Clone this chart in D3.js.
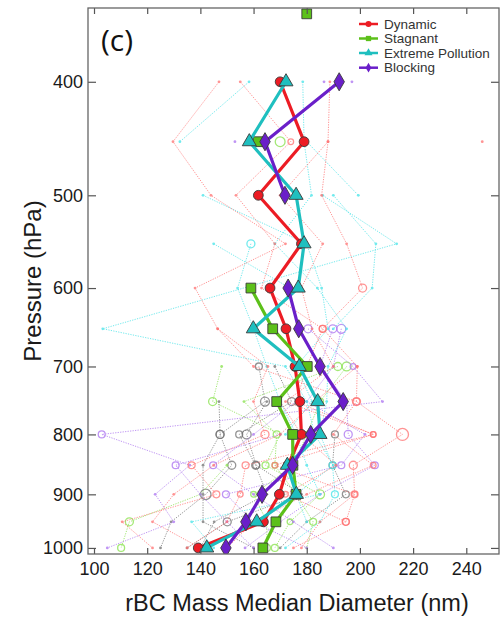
<!DOCTYPE html>
<html><head><meta charset="utf-8">
<script src="https://cdn.jsdelivr.net/npm/d3@7"></script>
<style>
body{margin:0;background:#fff}
text{font-family:"Liberation Sans",Arial,Helvetica,sans-serif}
</style>
</head><body>
<svg id="chart" width="500" height="617"></svg>
<script>
// ---------- data ----------
const levels = [350,400,450,500,550,600,650,700,750,800,850,900,950,1000];
const dynamic = [null,170,179,161.8,178,166.2,172.2,175.6,177.4,178,173,169.7,163.7,139.2];
const stagnant = [180,null,161.7,null,null,159,167.2,180.2,168.7,174.7,174.8,176,168.4,163.5];
const extreme = [null,172.2,158.4,176,179,176.8,159.9,177.2,184.1,185,172.7,176.1,161.2,142.4];
const blocking = [null,192.2,164.3,171.8,null,173,177,185,193.7,181.5,174.7,163.2,157.1,149.6];

const seriesNames = ["Dynamic","Stagnant","Extreme Pollution","Blocking"];
const xTicks = [100,120,140,160,180,200,220,240];
const yTicks = [400,500,600,700,800,900,1000];

// individual flight profiles: [pressure, diameter, sample count]
const redProfiles = [
  [[400,188.7,1],[450,188,1],[500,185.6,1],[550,195,1],[600,201,4],[650,186,3],[700,199,1],[750,198.7,3],[800,216,9],[850,197.5,4],[900,198,2],[950,194.7,3]],
  [[400,147,1],[450,129.7,1],[500,144,1],[550,172,1],[600,138,1],[650,146.5,1],[700,165.4,1],[750,160,1],[800,164.3,4],[850,136.7,3],[900,146,3],[950,110.6,1],[1000,122,1]],
  [[400,155,1],[450,174,2],[500,153.4,1],[550,168,1],[600,163,1],[650,186,3],[700,180,1],[750,176,1],[800,205,2],[850,157,3],[900,155,2],[950,150,1],[1000,135,1]],
  [[450,246,1]],
  [[450,188,1],[500,170,1],[550,186,1],[600,178,1],[650,182,1],[700,190,1],[750,172,1],[800,205,2],[850,168,2],[900,198,3],[950,185,1],[1000,178,1]],
  [[650,146.5,1],[700,160,1],[750,198.7,4],[800,190,1],[850,205,2],[900,180,1],[950,160,1],[1000,150,1]],
  [[700,199,1],[750,183,1],[800,170,1],[850,145,1],[900,130,1],[950,122,1],[1000,140,1]],
  [[750,170,1],[800,178,2],[850,191,1],[900,172,2],[950,194.7,3],[1000,175,1]]
];
const cyanProfiles = [
  [[400,158.3,1],[450,132.3,1]],
  [[400,178.5,1],[450,179,1],[500,181.8,1],[550,168,1],[600,184,1],[650,195,1],[700,188,1],[750,187.5,1],[800,185,1],[850,189.7,3],[900,190.6,3],[950,185,1],[1000,172,1]],
  [[450,180,1],[500,199.4,1]],
  [[500,186,1],[550,213.8,1],[650,103.3,1],[700,172,1],[750,180,1],[800,183,1],[850,190,1],[900,176,1],[950,180,1]],
  [[500,141,1],[550,180,1],[600,185.6,1],[650,188,1],[700,176,1],[750,182,1],[800,172,1]],
  [[550,145,1],[600,173.7,1]],
  [[550,159,4],[600,154,1],[650,160,1],[700,165,1],[750,170,1],[800,176,1],[850,180,1],[900,185,1],[950,136.7,1],[1000,145,1]],
  [[500,190,1],[550,206,1],[600,204.6,1],[650,190,1]]
];
const greenProfiles = [
  [[450,170,6]],
  [[700,148,1],[750,144.6,4],[800,170,1],[850,164.5,3],[900,185,5],[950,173.7,2],[1000,168,3]],
  [[850,150,1],[900,140,1],[950,113.3,4],[1000,110.2,3]],
  [[700,191.7,4],[750,156.4,1],[800,168.7,3],[850,168,2],[900,176,4],[950,182.4,3],[1000,180,1]],
  [[700,195,5],[750,185,3],[800,180,2],[850,175,1],[900,160,2],[950,165,1],[1000,165,3]]
];
const purpleProfiles = [
  [[400,186.5,1]],
  [[400,197,1]],
  [[450,153,1]],
  [[650,180.5,4],[700,197.4,2],[750,208.5,1],[800,102.9,3],[850,136,1],[900,123,1],[950,130,1],[1000,105,1]],
  [[650,189.8,4],[700,185,1],[750,195,1],[800,195.6,4],[850,205.6,3],[900,185,1],[950,170,1],[1000,156.8,1]],
  [[650,193,5],[700,190,1],[750,180,1],[800,201.9,1],[850,193,3],[900,149.6,3],[950,160,1],[1000,180,1]],
  [[800,170,1],[850,130.7,3],[900,140,1],[950,150,1],[1000,160,1]],
  [[750,176,1],[800,160,1],[850,144.8,3],[900,160,1],[950,175,1],[1000,190,1]]
];
const grayProfiles = [
  [[700,162,3],[750,164.3,5],[800,147.4,4],[850,151.8,4],[900,142,7],[950,129,1],[1000,125,1]],
  [[700,168,1],[750,174.3,4],[800,154.6,3],[850,160.8,4],[900,165,1],[950,145.2,1],[1000,140,1]],
  [[750,165,1],[800,157.4,5],[850,161,3],[900,178,1],[950,150.1,4],[1000,135,1]],
  [[800,190.6,3],[850,189.7,3],[900,194.7,3],[950,180,1],[1000,170,1]],
  [[750,147,1],[800,147.4,4],[850,141,1],[900,141,1],[950,141,1],[1000,160,1]]
];

// ---------- layout ----------
const svg = d3.select("#chart");
const L = 88, R = 499, T = 8, B = 554;
const x = d3.scaleLinear().domain([97.74, 252.3]).range([L, R]);
const y = d3.scaleLog().domain([346, 1012]).range([T, B]);

svg.append("defs").append("clipPath").attr("id","clip")
  .append("rect").attr("x",L).attr("y",T).attr("width",R-L).attr("height",B-T);
const plot = svg.append("g").attr("clip-path","url(#clip)");

// background profiles
const rScale = d3.scaleSqrt().domain([0,9]).range([0,6]);
const bgGroups = [
  {data: grayProfiles, color:"#707070", op:0.75},
  {data: greenProfiles, color:"#8ee455", op:0.8},
  {data: purpleProfiles, color:"#b07af2", op:0.8},
  {data: cyanProfiles, color:"#4fe6ea", op:0.8},
  {data: redProfiles, color:"#ff7070", op:0.75}
];
const bgLine = d3.line().x(d=>x(d[1])).y(d=>y(d[0]));
bgGroups.forEach(g => {
  g.data.forEach(prof => {
    const gg = plot.append("g").attr("opacity", g.op);
    gg.append("path").datum(prof).attr("d", bgLine)
      .attr("fill","none").attr("stroke", g.color).attr("stroke-width",1)
      .attr("stroke-dasharray","1.2,1.3");
    gg.selectAll("circle").data(prof).join("circle")
      .attr("cx", d=>x(d[1])).attr("cy", d=>y(d[0]))
      .attr("r", d=> d[2] <= 1 ? 1.4 : rScale(d[2]))
      .attr("fill", d=> d[2] <= 1 ? g.color : "none")
      .attr("stroke", g.color).attr("stroke-width", d=> d[2] <= 1 ? 0 : 1.3);
  });
});

// main series
const mainColors = ["#ec1c24","#5cc01a","#1fbfbf","#6a1fc9"];
const mainShapes = [d3.symbolCircle, d3.symbolSquare, d3.symbolTriangle, d3.symbolDiamond];
const mainSizes = [75, 95, 85, 95];
const mainData = [dynamic, stagnant, extreme, blocking];

mainData.forEach((vals, i) => {
  const pts = levels.map((p, k) => ({p, v: vals[k]}));
  const line = d3.line().defined(d => d.v != null).x(d=>x(d.v)).y(d=>y(d.p));
  plot.append("path").datum(pts).attr("d", line)
    .attr("fill","none").attr("stroke", mainColors[i]).attr("stroke-width",3.2)
    .attr("stroke-linejoin","round");
  plot.selectAll(null).data(pts.filter(d=>d.v!=null)).join("path")
    .attr("d", d3.symbol().type(mainShapes[i]).size(mainSizes[i]))
    .attr("transform", d=>`translate(${x(d.v)},${y(d.p)})`)
    .attr("fill", mainColors[i]).attr("stroke","#3a3a3a").attr("stroke-width",0.9);
});

// ---------- axes ----------
const axB = svg.append("g").attr("transform",`translate(0,${B})`)
  .call(d3.axisBottom(x).tickValues(xTicks).tickSize(-6).tickPadding(8));
const axT = svg.append("g").attr("transform",`translate(0,${T})`)
  .call(d3.axisTop(x).tickValues(xTicks).tickSize(-6).tickFormat(""));
const axL = svg.append("g").attr("transform",`translate(${L},0)`)
  .call(d3.axisLeft(y).tickValues(yTicks).tickSize(-8).tickPadding(5).tickFormat(d3.format("d")));
const axR = svg.append("g").attr("transform",`translate(${R},0)`)
  .call(d3.axisRight(y).tickValues(yTicks).tickSize(-8).tickFormat(""));
[axB,axT,axL,axR].forEach(a => {
  a.select(".domain").remove();
  a.selectAll("line").attr("stroke","#555").attr("stroke-width",1.2);
  a.selectAll("text").attr("font-size",18).attr("fill","#1a1a1a")
    .style("font-family",'"Liberation Sans",Arial,sans-serif');
});
svg.append("rect").attr("x",L).attr("y",T).attr("width",R-L).attr("height",B-T)
  .attr("fill","none").attr("stroke","#666").attr("stroke-width",1.3);

// titles
svg.append("text").attr("x", 297).attr("y", 611).attr("text-anchor","middle")
  .attr("font-size",23.5).attr("fill","#1a1a1a").text("rBC Mass Median Diameter (nm)");
svg.append("text").attr("transform","translate(41,281) rotate(-90)").attr("text-anchor","middle")
  .attr("font-size",24).attr("fill","#1a1a1a").text("Pressure (hPa)");
svg.append("text").attr("x",101).attr("y",51).attr("font-size",30).attr("fill","#111")
  .style("font-family",'"Open Sans","Liberation Sans",sans-serif').text("(c)");

// legend
const legY = [24, 38.5, 53, 67.7];
const legend = svg.append("g");
seriesNames.forEach((name, i) => {
  const g = legend.append("g").attr("transform",`translate(0,${legY[i]})`);
  g.append("line").attr("x1",359).attr("x2",378).attr("y1",0).attr("y2",0)
    .attr("stroke",mainColors[i]).attr("stroke-width",2.5);
  g.append("path").attr("d", d3.symbol().type(mainShapes[i]).size(28))
    .attr("transform","translate(368.5,0)").attr("fill",mainColors[i]);
  g.append("text").attr("x",384).attr("y",0).attr("dy","0.35em")
    .attr("font-size",13.5).attr("fill","#333").text(name);
});
</script>
</body></html>
